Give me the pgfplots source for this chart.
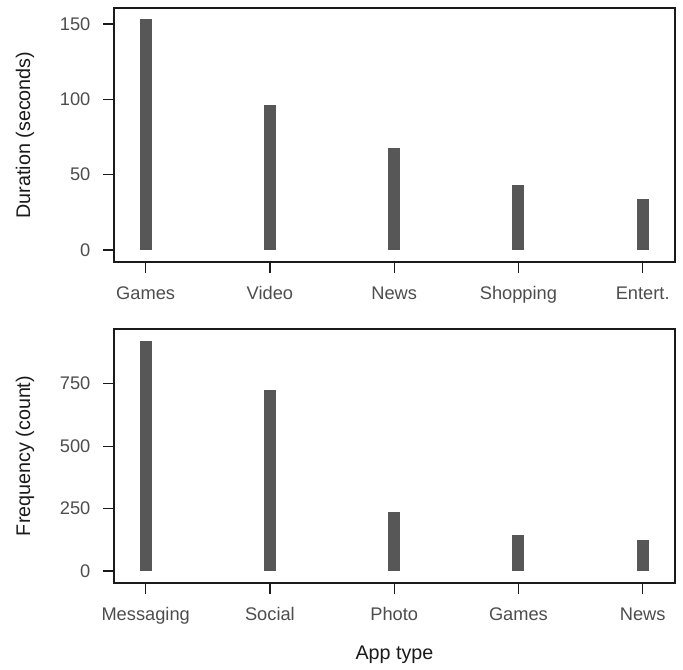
\documentclass[border=0pt]{standalone}
\usepackage{fontspec}
\setmainfont{Liberation Sans}
\usepackage{pgfplots}
\pgfplotsset{compat=1.18}
\definecolor{bargray}{HTML}{575757}
\definecolor{tickgray}{HTML}{4D4D4D}
\definecolor{titlegray}{HTML}{1A1A1A}
\definecolor{axisgray}{HTML}{1A1A1A}
\pgfplotsset{
  rstyle/.style={
    scale only axis, width=420.75pt, height=190.5pt,
    xmin=0.745, xmax=5.26,
    xtick={1,2,3,4,5},
    xtick pos=left, ytick pos=left,
    tick align=outside,
    major tick length=8.25pt,
    axis line style={axisgray, line width=1pt},
    every tick/.style={axisgray, line width=0.9pt},
    tick label style={font=\fontsize{13.7}{16}\selectfont, text=tickgray, inner sep=0pt},
    /pgf/number format/assume math mode=true,
    x tick label style={anchor=base, yshift=-19.75pt},
    y tick label style={anchor=east, xshift=-9.25pt},
    label style={font=\fontsize{14.8}{18}\selectfont, text=titlegray},
    ylabel style={at={(axis description cs:-0.1586,0.5)}, anchor=center},
  }
}
\begin{document}
\begin{tikzpicture}
\path[use as bounding box] (0,0) rectangle (512.25pt,502.5pt);
\begin{axis}[rstyle, at={(85.5pt,306pt)}, anchor=south west,
  ymin=-8, ymax=160.6, ytick={0,50,100,150},
  xticklabels={Games,Video,News,Shopping,Entert.},
  ylabel={Duration (seconds)}]
\addplot[ycomb, draw=bargray, line width=9pt, no markers] coordinates {
 (1,153) (2,96) (3,67.5) (4,43) (5,34)};
\end{axis}
\begin{axis}[rstyle, at={(85.5pt,65.25pt)}, anchor=south west,
  ymin=-48, ymax=969, ytick={0,250,500,750},
  xticklabels={Messaging,Social,Photo,Games,News},
  ylabel={Frequency (count)},
  xlabel={App type},
  xlabel style={at={(axis description cs:0.5,0)}, anchor=base, yshift=-57.75pt}]
\addplot[ycomb, draw=bargray, line width=9pt, no markers] coordinates {
 (1,922) (2,725) (3,235) (4,143) (5,123)};
\end{axis}
\end{tikzpicture}
\end{document}
